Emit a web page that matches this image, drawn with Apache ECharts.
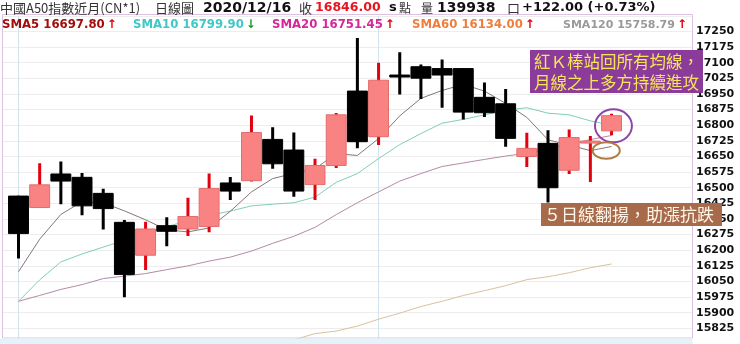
<!DOCTYPE html>
<html>
<head>
<meta charset="utf-8">
<script src="https://cdn.jsdelivr.net/npm/echarts@6/dist/echarts.min.js"></script>
<style>
  html, body { margin: 0; padding: 0; background: #ffffff; }
  #chart { width: 740px; height: 344px; }
</style>
</head>
<body>
<div id="chart"></div>
<script>
// ---- data ----
const opens  = [16460,16405,16566,16550,16473,16334,16176,16318,16302,16314,16523,16534,16732,16681,16515,16607,16964,16745,17041,17081,17072,17072,16934,16903,16650,16713,16584,16716,16773];
const closes = [16280,16514,16532,16413,16400,16084,16302,16291,16362,16496,16484,16765,16615,16484,16607,16850,16721,17016,17032,17026,17041,16863,16860,16737,16689,16500,16741,16724,16846];
const lows   = [16160,16403,16421,16368,16299,15974,16105,16219,16268,16286,16441,16530,16591,16457,16441,16595,16689,16705,16947,16926,16884,16828,16840,16697,16599,16429,16566,16528,16752];
const highs  = [16462,16618,16626,16571,16495,16345,16337,16358,16452,16568,16552,16847,16790,16765,16639,16859,17219,17100,17150,17092,17116,17073,17005,16974,16764,16776,16779,16748,16855];

const sma5  = [16097,16253,16372,16433,16428,16389,16346,16298,16288,16307,16387,16480,16544,16569,16591,16664,16655,16736,16845,16929,16967,16996,16964,16905,16838,16730,16705,16678,16698];
const sma10 = [15955,16058,16144,16182,16215,16248,16280,16313,16342,16367,16388,16413,16421,16428,16455,16526,16568,16640,16707,16760,16810,16828,16850,16872,16884,16858,16850,16821,16800];
const sma20 = [15955,15983,16012,16035,16064,16076,16088,16107,16125,16148,16167,16196,16233,16267,16310,16371,16428,16480,16532,16568,16602,16619,16636,16652,16666,16687,16709,16731,16751];
const sma60 = [null,null,null,null,null,null,null,null,null,null,null,null,null,15770,15800,15812,15836,15869,15898,15930,15955,15983,16006,16030,16059,16073,16092,16116,16134];

const maNames  = ['SMA5','SMA10','SMA20','SMA60','SMA120'];
const maLast   = ['16697.80','16799.90','16751.45','16134.00','15758.79'];
const maTrend  = ['up','down','up','up','up'];
const separators = [0, 17];

const yMin = 15750, yMax = 17325, yStep = 75;

// ---- build ----
const idx = opens.map((_, i) => i);
const candleData = idx.map(i => [i, opens[i], closes[i], lows[i], highs[i]]);
const toLine = arr => idx.map(i => [i, arr[i]]);

function renderCandle(params, api) {
  const x = api.value(0);
  const o = api.value(1), c = api.value(2), l = api.value(3), h = api.value(4);
  const pO = api.coord([x, o]), pC = api.coord([x, c]);
  const pL = api.coord([x, l]), pH = api.coord([x, h]);
  const w = api.size([1, 0])[0] * 0.94;
  const up = c >= o;
  const top = Math.min(pO[1], pC[1]);
  const bot = Math.max(pO[1], pC[1]);
  return {
    type: 'group',
    children: [
      { type: 'line', shape: { x1: pO[0], y1: pH[1], x2: pO[0], y2: pL[1] },
        style: { stroke: up ? '#e3000f' : '#000000', lineWidth: 3 } },
      { type: 'rect', shape: { x: pO[0] - w / 2, y: top, width: w, height: Math.max(bot - top, 2) },
        style: { fill: up ? '#f98383' : '#000000', stroke: up ? '#e46c6c' : '#000000', lineWidth: 1 } }
    ]
  };
}

const chart = echarts.init(document.getElementById('chart'), null, { renderer: 'canvas' });

const gridLeft = 2, gridTop = 15.87, gridW = 690, gridH = 332.36;
const slot = 21.18, firstX = 18.5;
const xMin = -(firstX - gridLeft) / slot;
const xMax = (gridLeft + gridW - firstX) / slot;

const lineStyleFor = (color) => ({ color: color, width: 1 });

const option = {
  animation: false,
  backgroundColor: '#ffffff',
  grid: { left: gridLeft, top: gridTop, width: gridW, height: gridH },
  xAxis: { type: 'value', min: xMin, max: xMax, show: false },
  yAxis: {
    type: 'value', position: 'right', min: yMin, max: yMax, interval: yStep,
    axisLine: { show: false }, axisTick: { show: false },
    splitLine: { show: true, lineStyle: { color: '#ededed', width: 1 } },
    axisLabel: {
      showMinLabel: false, showMaxLabel: false, margin: 4,
      formatter: v => String(v),
      color: '#111111', fontFamily: 'DejaVu Sans', fontWeight: 'bold', fontSize: 11
    }
  },
  series: [
    { type: 'line', data: [], z: 0, silent: true,
      markLine: { silent: true, symbol: 'none', label: { show: false }, z: 0,
        lineStyle: { color: '#d3e3ec', width: 1, type: 'solid' },
        data: separators.map(s => ({ xAxis: s })) } },
    { type: 'line', data: toLine(sma60), symbol: 'none', lineStyle: lineStyleFor('#d8c29e'), z: 1, silent: true },
    { type: 'line', data: toLine(sma20), symbol: 'none', lineStyle: lineStyleFor('#b58aa7'), z: 1, silent: true },
    { type: 'line', data: toLine(sma10), symbol: 'none', lineStyle: lineStyleFor('#7fcfb6'), z: 1, silent: true },
    { type: 'line', data: toLine(sma5), symbol: 'none', lineStyle: lineStyleFor('#857676'), z: 1, silent: true },
    { type: 'custom', renderItem: renderCandle, data: candleData, clip: true, z: 3,
      encode: { x: 0, y: [1, 2, 3, 4] } }
  ]
};
chart.setOption(option);

// ---- header / legend / annotations ----
const cjk = '"Noto Sans CJK TC", "Noto Sans CJK SC", sans-serif';
const num = '"DejaVu Sans", Verdana, sans-serif';
function txt(x, y, s, font, color, extra) {
  return Object.assign({
    type: 'text', x: x, y: y, z: 100,
    style: { text: s, font: font, fill: color, textVerticalAlign: 'middle', textAlign: 'left' }
  }, extra || {});
}
const headerY = 8;
const header = [
  txt(0, headerY, '中國A50指數近月(CN*1)', '13px ' + cjk, '#333333'),
  txt(155, headerY, '日線圖', '13px ' + cjk, '#333333'),
  txt(203, headerY, '2020/12/16', 'bold 14px ' + num, '#111111'),
  txt(299, headerY, '收', '13px ' + cjk, '#333333'),
  txt(315, headerY, '16846.00', 'bold 12.5px ' + num, '#e8141e'),
  txt(389, headerY, 's', 'bold 13px ' + num, '#111111'),
  txt(399, headerY, '點', '12px ' + cjk, '#333333'),
  txt(421, headerY, '量', '12px ' + cjk, '#333333'),
  txt(437, headerY, '139938', 'bold 14px ' + num, '#111111'),
  txt(507, headerY, '口', '13px ' + cjk, '#333333'),
  txt(522, headerY, '+122.00 (+0.73%)', 'bold 13px ' + num, '#111111')
];

const legendColors = ['#a30c0c', '#3ec8c8', '#d6279a', '#f07d3c', '#999999'];
const legendX = [2, 133, 272, 412, 563];
const legendSize = [11.7, 11.7, 11.7, 11.7, 11];
const legend = maNames.map((n, i) => ({
  type: 'text', x: legendX[i], y: 25, z: 100,
  style: {
    text: '{v|' + n + ' ' + maLast[i] + '}{' + maTrend[i] + '|' + (maTrend[i] === 'up' ? '↑' : '↓') + '}',
    textVerticalAlign: 'middle',
    fill: legendColors[i],
    rich: {
      v: { fontFamily: num, fontWeight: 'bold', fontSize: legendSize[i], fill: legendColors[i] },
      up: { fontFamily: num, fontWeight: 'bold', fontSize: 12, fill: '#e3000f', padding: [0, 0, 0, 2] },
      down: { fontFamily: num, fontWeight: 'bold', fontSize: 12, fill: '#1f9a2a', padding: [0, 0, 0, 2] }
    }
  }
}));

const purpleC = chart.convertToPixel({ gridIndex: 0 }, [28.09, 16797]);
const orangeC = chart.convertToPixel({ gridIndex: 0 }, [27.75, 16679]);

const overlays = [
  // frame
  { type: 'rect', z: 90, shape: { x: 2.5, y: 14.5, width: 690, height: 323.5 },
    style: { fill: null, stroke: '#dcc2e0', lineWidth: 1 } },
  { type: 'rect', z: 91, shape: { x: 0, y: 338.5, width: 692.5, height: 6 },
    style: { fill: '#e3f3fa' } },
  { type: 'rect', z: 89, shape: { x: 0, y: 0, width: 740, height: 14 }, style: { fill: '#ffffff' } },
  // circles
  { type: 'ellipse', z: 95, shape: { cx: purpleC[0], cy: purpleC[1], rx: 18.5, ry: 16.5 },
    style: { fill: null, stroke: '#8e44a8', lineWidth: 2 } },
  { type: 'ellipse', z: 95, shape: { cx: orangeC[0], cy: orangeC[1], rx: 13.5, ry: 8.3 },
    style: { fill: null, stroke: '#b07845', lineWidth: 2 } },
  // purple note
  { type: 'rect', z: 96, shape: { x: 530, y: 50, width: 173, height: 43 }, style: { fill: '#8b3c9a' } },
  txt(534, 62, '紅Ｋ棒站回所有均線，', '16.5px ' + cjk, '#f6e45a', { z: 97 }),
  txt(534, 83, '月線之上多方持續進攻', '16.5px ' + cjk, '#f6e45a', { z: 97 }),
  // brown note
  { type: 'rect', z: 96, shape: { x: 541, y: 203, width: 181, height: 23 }, style: { fill: '#a76a4b' } },
  txt(544, 215, '５日線翻揚，助漲抗跌', '17px ' + cjk, '#fff6e8', { z: 97 })
];

chart.setOption({ graphic: { elements: header.concat(legend, overlays) } });
</script>
</body>
</html>
